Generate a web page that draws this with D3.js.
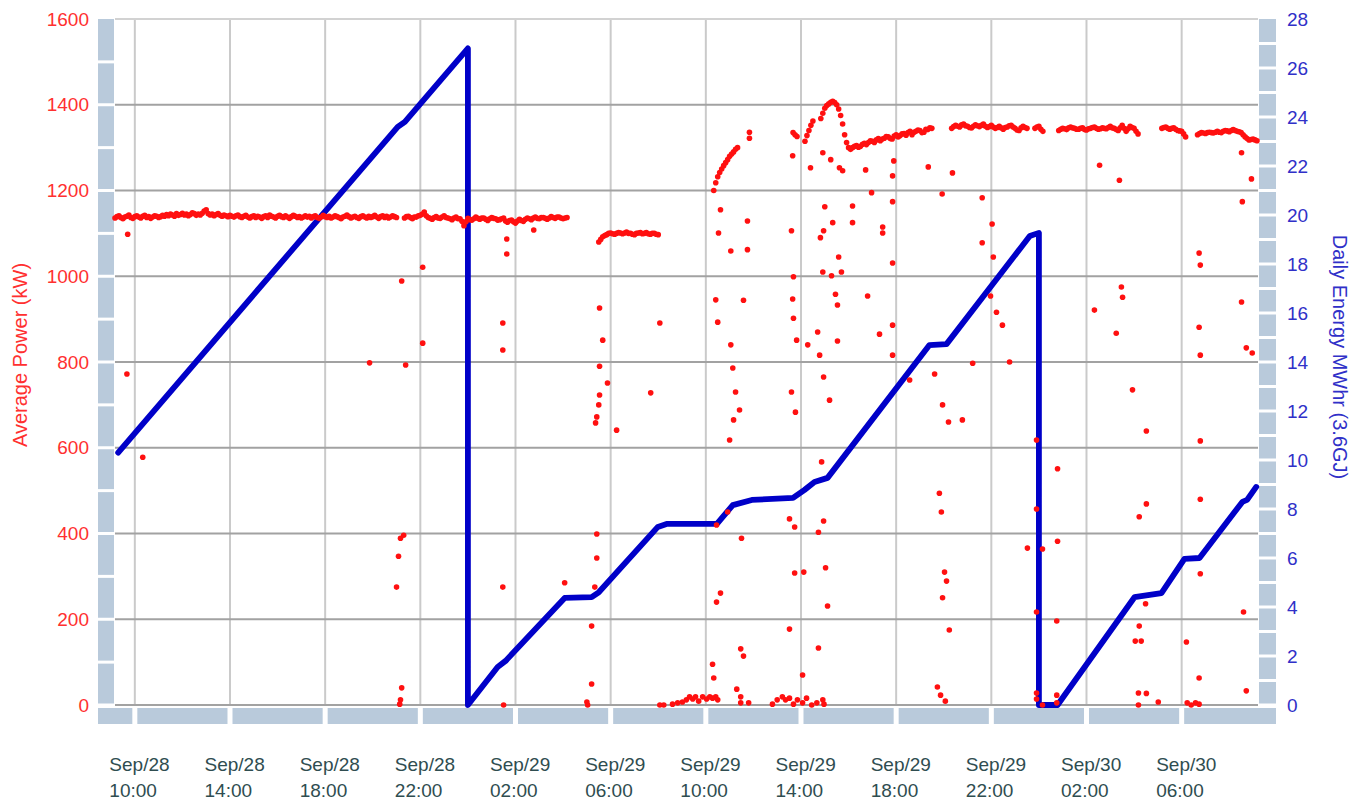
<!DOCTYPE html>
<html><head><meta charset="utf-8">
<script src="https://cdn.jsdelivr.net/npm/d3@7"></script>
<style>html,body{margin:0;padding:0;background:#fff;} svg{display:block;font-family:"Liberation Sans",Arial,sans-serif;}</style>
</head><body>
<svg id="chart" width="1352" height="803"></svg>
<script>
// ---------------- DATA ----------------
const timeDomain = ["28 09:10", "30 09:10"];
const powerTicks = [0, 200, 400, 600, 800, 1000, 1200, 1400, 1600];
const energyTicks = [0, 2, 4, 6, 8, 10, 12, 14, 16, 18, 20, 22, 24, 26, 28];
const timeTicks = ["28 10:00","28 14:00","28 18:00","28 22:00","29 02:00","29 06:00",
                   "29 10:00","29 14:00","29 18:00","29 22:00","30 02:00","30 06:00"];
const timeTickLabels = [["Sep/28","10:00"],["Sep/28","14:00"],["Sep/28","18:00"],["Sep/28","22:00"],
                        ["Sep/29","02:00"],["Sep/29","06:00"],["Sep/29","10:00"],["Sep/29","14:00"],
                        ["Sep/29","18:00"],["Sep/29","22:00"],["Sep/30","02:00"],["Sep/30","06:00"]];
const leftTitle = "Average Power (kW)";
const rightTitle = "Daily Energy MWhr (3.6GJ)";

// Daily energy (MWh), blue line
const energyTimes = ["28 09:18","28 21:03","28 21:21","29 00:00","29 00:00","29 01:15","29 01:35","29 04:04",
  "29 05:12","29 05:30","29 07:59","29 08:21","29 10:28","29 11:08","29 11:56","29 13:40","29 14:09",
  "29 14:34","29 15:07","29 19:24","29 20:07","29 23:37","30 00:00","30 00:00","30 00:47","30 04:01",
  "30 05:09","30 06:07","30 06:45","30 08:33","30 08:45","30 09:08"];
const energyValues = [10.3, 23.6, 23.8, 26.8, 0, 1.55, 1.8, 4.37, 4.4, 4.6, 7.27, 7.39, 7.39, 8.16, 8.37,
  8.45, 8.78, 9.1, 9.27, 14.69, 14.73, 19.14, 19.27, 0, 0, 4.4, 4.57, 5.96, 6.0, 8.29, 8.37, 8.9];

// Average power (kW), 5-minute readings in continuous runs
const runStepMinutes = 5;
const runStarts = ["28 09:10","28 21:20","29 05:30","29 10:20","29 11:50","29 13:40","29 14:10",
                   "29 14:50","29 20:20","29 23:50","30 00:50","30 05:10","30 06:40"];
const runValues = [
  [1136,1139,1141,1137,1134,1138,1140,1143,1137,1135,1139,1141,
   1138,1136,1140,1142,1137,1139,1135,1138,1141,1140,1137,1139,
   1142,1140,1144,1141,1145,1143,1140,1146,1142,1144,1147,1143,
   1145,1141,1144,1148,1146,1142,1145,1143,1147,1152,1155,1146,
   1143,1145,1141,1144,1146,1142,1140,1143,1141,1139,1142,1140,
   1138,1141,1143,1139,1137,1140,1142,1138,1136,1139,1141,1137,
   1140,1138,1135,1139,1141,1137,1143,1140,1138,1136,1140,1142,
   1139,1137,1141,1138,1135,1139,1142,1140,1137,1139,1136,1138,
   1141,1138,1140,1136,1139,1141,1137,1135,1138,1142,1139,1137,
   1140,1136,1138,1141,1139,1137,1134,1138,1140,1143,1139,1136,
   1138,1140,1137,1135,1139,1141,1138,1136,1140,1137,1139,1142,
   1138,1135,1139,1141,1137,1140,1136,1138,1141,1139,1137],
  [1136,1139,1140,1137,1134,1138,1138,1141,1142,1145,1150,1141,
   1137,1135,1133,1137,1139,1136,1135,1138,1141,1137,1136,1134,
   1132,1136,1138,1134,1134,1128,1118,1127,1135,1132,1131,1134,
   1138,1135,1133,1136,1136,1133,1130,1134,1137,1135,1134,1131,
   1132,1134,1136,1129,1126,1130,1131,1127,1124,1129,1133,1130,
   1128,1133,1136,1134,1132,1136,1138,1135,1134,1137,1137,1135,
   1133,1136,1139,1137,1135,1138,1138,1136,1134,1136,1137],
  [1080,1086,1092,1095,1097,1100,1101,1099,1098,1100,1102,1101,1099,1101,1103,1100,
   1100,1098,1097,1100,1101,1102,1099,1100,1102,1099,1098,1100,1100,1098,1097],
  [1200,1218,1232,1242,1250,1258,1265,1272,1280,1285,1290,1296,1300],
  [1336],
  [1335,1330,1326],
  [1315,1328,1340,1352,1362],
  [1368,1380,1392,1398,1402,1406,1408,1405,1400,1390,1375,1355,1330,1312,1300,1296,
   1300,1303,1305,1301,1303,1308,1310,1307,1312,1316,1315,1312,1318,1321,1316,1320,
   1322,1326,1325,1321,1320,1327,1330,1325,1328,1332,1333,1329,1335,1338,1330,1336,
   1338,1341,1340,1335,1336,1343,1342,1346,1345],
  [1345,1349,1352,1350,1348,1353,1355,1351,1350,1347,1346,1350,1353,1351,1349,1352,
   1355,1350,1347,1349,1352,1348,1345,1347,1350,1346,1343,1347,1348,1351,1352,1348,
   1345,1341,1340,1346,1350,1347,1345],
  [1345,1348,1350,1343,1338],
  [1340,1343,1345,1344,1342,1346,1348,1346,1345,1343,1343,1345,1346,1342,1341,1344,
   1345,1347,1348,1345,1343,1344,1346,1345,1344,1347,1350,1346,1345,1342,1340,1346,
   1352,1345,1338,1344,1350,1347,1345,1338,1332],
  [1345,1347,1348,1345,1343,1345,1346,1343,1340,1339,1338,1332,1325],
  [1330,1333,1335,1334,1333,1335,1336,1335,1334,1336,1338,1336,1335,1338,1340,1339,
   1337,1340,1342,1340,1338,1337,1335,1330,1325,1321,1318,1319,1320,1318,1316]
];

// Isolated power readings (kW)
const spotTimes = [
  "28 09:42","28 09:40","28 10:20","28 19:52","28 21:13","28 21:23","28 21:10","28 21:18","28 21:05","28 21:00",
  "28 21:13","28 21:10","28 21:08","28 22:06","28 22:06",
  "29 01:38","29 02:46","29 01:30","29 01:28","29 01:28","29 01:28","29 01:38","29 04:04","29 05:12","29 05:12",
  "29 05:00","29 05:02","29 05:25","29 05:25","29 05:20","29 05:32","29 05:40","29 05:32","29 05:32","29 05:30",
  "29 05:25","29 05:22","29 05:52","29 06:15","29 07:41","29 08:04",
  "29 08:04","29 08:14","29 08:36","29 08:49","29 09:01","29 09:11","29 09:19","29 09:27","29 09:34","29 09:42",
  "29 09:52","29 10:02","29 10:10","29 10:17","29 10:25","29 10:30",
  "29 10:17","29 10:20","29 10:27","29 10:37","29 10:27","29 10:55","29 10:37","29 10:32","29 11:03","29 11:45",
  "29 11:45","29 10:25","29 10:30","29 11:03","29 11:08","29 11:15","29 11:25","29 11:10","29 11:00","29 11:30",
  "29 11:28","29 11:35","29 11:18","29 11:28","29 11:28","29 11:48","29 11:35","29 11:50",
  "29 12:48","29 13:00","29 13:13","29 13:21","29 13:31","29 13:41","29 13:51","29 14:04","29 14:14","29 14:27",
  "29 14:55","29 14:58","29 14:40",
  "29 13:31","29 13:44","29 13:44","29 14:07","29 13:31","29 14:04","29 14:44","29 14:57","29 15:02","29 14:44","29 15:07",
  "29 13:41","29 14:55","29 15:17","29 15:42","29 15:35","29 14:49","29 14:57","29 15:20","29 15:00","29 16:10",
  "29 16:10","29 13:36","29 13:39","29 14:24","29 14:55","29 15:15","29 15:37","29 15:45","29 16:43","29 16:58",
  "29 17:26","29 17:26","29 17:51","29 17:51","29 17:54","29 17:51","29 19:21","29 19:56","29 20:22","29 21:37",
  "29 21:37","29 22:02","29 22:05",
  "29 13:39","29 13:41","29 13:49","29 13:36","29 13:46","29 14:17","29 14:42","29 14:47","29 14:57","29 15:27",
  "29 15:32","29 15:32","29 15:12","29 14:52",
  "29 16:48","29 17:18","29 17:51","29 17:51","29 18:34","29 19:37",
  "29 19:49","29 19:54","29 20:02","29 20:07","29 19:57","29 20:14","29 19:44","29 19:52","29 20:04","29 19:57",
  "29 20:12","29 20:47","29 21:13","29 21:58","29 22:13","29 22:28","29 22:46","29 23:31","29 23:54","29 23:54",
  "30 00:09","29 23:54","29 23:54","29 23:54","30 00:09",
  "30 00:47","30 00:47","30 00:45","30 00:45","30 00:45","30 04:31","30 06:47","30 04:31","30 04:13","30 06:47",
  "30 06:47","30 04:29","30 04:13","30 04:03","30 04:18","30 08:36","30 06:12","30 06:44","30 08:43","30 04:11",
  "30 04:31","30 05:01","30 04:11","30 06:14","30 06:24","30 06:35","30 06:44","30 08:31","30 08:43","30 08:58",
  "30 08:31","30 08:56","30 08:33",
  "30 02:20","30 03:28","30 03:31","30 03:15","30 03:56","30 02:33","30 03:23","30 06:44","30 06:47","30 06:44","30 06:47"
];
const spotValues = [
  1098,772,578,798,989,793,389,396,347,275,
  40,12,2,1021,844,
  1087,1108,0,275,891,828,1052,285,184,49,
  7,0,399,343,275,926,851,790,723,700,
  672,658,751,641,728,891,
  0,0,2,5,7,12,19,14,19,9,
  19,14,19,16,19,12,
  95,63,240,261,420,450,1155,1101,1059,1129,
  1062,945,893,840,786,730,688,665,618,389,
  131,114,37,19,5,5,944,1322,
  2,12,19,12,16,2,12,5,16,0,
  12,2,5,
  434,415,308,310,177,70,403,429,320,133,231,
  999,1010,1001,1010,1045,1090,1106,1125,1162,1164,
  1125,1106,1281,1253,1288,1272,1253,1246,1248,1195,
  1115,1101,1031,1174,1269,1234,1255,1192,1241,1183,
  1078,1122,1045,
  947,902,851,730,683,840,870,816,765,958,
  933,849,711,567,
  954,865,886,816,758,772,
  494,450,310,289,250,175,42,23,9,700,
  660,665,797,954,916,886,800,366,618,457,
  364,217,28,14,0,
  551,382,196,23,5,639,616,469,439,480,
  306,236,184,149,149,217,147,63,33,28,
  27,7,0,5,0,5,2,940,833,821,
  1288,1227,1174,
  921,975,951,867,735,1259,1224,1054,1026,881,816
];

// ---------------- DRAWING ----------------
const parseT = d3.timeParse("%Y-%m-%d %H:%M");
const T = s => parseT("2023-09-" + s);

const plot = {left: 115, right: 1257, top: 19, bottom: 705};
const x = d3.scaleTime().domain(timeDomain.map(T)).range([plot.left, plot.right]);
const yL = d3.scaleLinear().domain([0, 1600]).range([plot.bottom, plot.top]);
const yR = d3.scaleLinear().domain([0, 28]).range([plot.bottom, plot.top]);

const svg = d3.select("#chart");
const bandColor = "#b9cadb";

// gridlines
const grid = svg.append("g");
grid.selectAll("line.v").data(timeTicks.map(T)).join("line")
  .attr("x1", d => x(d)).attr("x2", d => x(d))
  .attr("y1", plot.top).attr("y2", plot.bottom)
  .attr("stroke", "#cacaca").attr("stroke-width", 2);
grid.selectAll("line.h").data(powerTicks).join("line")
  .attr("x1", plot.left).attr("x2", plot.right + 1)
  .attr("y1", d => yL(d)).attr("y2", d => yL(d))
  .attr("stroke", d => d === 1600 ? "#d2d2d2" : "#a2a2a2").attr("stroke-width", 2);

// left band (segments every 100 kW)
const leftSteps = d3.range(0, 1600, 100);
svg.append("g").selectAll("rect").data(leftSteps).join("rect")
  .attr("x", 98).attr("width", 16)
  .attr("y", d => yL(d + 100) + (d + 100 === 1600 ? 0 : 1.5))
  .attr("height", d => yL(d) - yL(d + 100) - (d + 100 === 1600 ? 1.5 : 3))
  .attr("fill", bandColor);
// right band (segments every 1 MWh)
const rightSteps = d3.range(0, 28, 1);
svg.append("g").selectAll("rect").data(rightSteps).join("rect")
  .attr("x", 1259).attr("width", 17)
  .attr("y", d => yR(d + 1) + (d + 1 === 28 ? 0 : 1.5))
  .attr("height", d => yR(d) - yR(d + 1) - (d + 1 === 28 ? 1.5 : 3))
  .attr("fill", bandColor);
// bottom band (segments between time ticks)
const bx = [98, ...timeTicks.map(t => x(T(t))), 1276];
svg.append("g").selectAll("rect").data(d3.range(bx.length - 1)).join("rect")
  .attr("x", i => bx[i] + (i === 0 ? 0 : 2.5))
  .attr("width", i => bx[i + 1] - bx[i] - (i === 0 ? 2.5 : (i === bx.length - 2 ? 2.5 : 5)))
  .attr("y", 708).attr("height", 16)
  .attr("fill", bandColor);

// energy line
const energy = energyTimes.map((t, i) => ({t: T(t), v: energyValues[i]}));
svg.append("path").datum(energy)
  .attr("d", d3.line().x(d => x(d.t)).y(d => yR(d.v)))
  .attr("fill", "none").attr("stroke", "#0000c8").attr("stroke-width", 5.8)
  .attr("stroke-linejoin", "round").attr("stroke-linecap", "round");

// power points
const power = [];
runStarts.forEach((s, i) => {
  const t0 = T(s);
  runValues[i].forEach((v, j) => power.push({t: d3.timeMinute.offset(t0, j * runStepMinutes), v}));
});
spotTimes.forEach((s, i) => power.push({t: T(s), v: spotValues[i]}));
svg.append("g").selectAll("circle").data(power).join("circle")
  .attr("cx", d => x(d.t)).attr("cy", d => yL(d.v)).attr("r", 2.8)
  .attr("fill", "#ff1010");

// axes
const fontSize = 19;
const gL = svg.append("g").attr("transform", "translate(98,0)")
  .call(d3.axisLeft(yL).tickValues(powerTicks).tickSize(0).tickPadding(9).tickFormat(d3.format("d")));
gL.select(".domain").remove();
gL.selectAll("text").attr("fill", "#ff3030").attr("font-size", fontSize).attr("font-family", "Liberation Sans, Arial, sans-serif");

const gR = svg.append("g").attr("transform", "translate(1276,0)")
  .call(d3.axisRight(yR).tickValues(energyTicks).tickSize(0).tickPadding(11).tickFormat(d3.format("d")));
gR.select(".domain").remove();
gR.selectAll("text").attr("fill", "#3030c8").attr("font-size", fontSize).attr("font-family", "Liberation Sans, Arial, sans-serif");

const gB = svg.append("g").attr("transform", "translate(0,724)")
  .call(d3.axisBottom(x).tickValues(timeTicks.map(T)).tickSize(0).tickFormat(() => ""));
gB.select(".domain").remove();
gB.selectAll(".tick text").each(function(d, i) {
  const t = d3.select(this).attr("text-anchor", "start").attr("y", 0).attr("dy", null)
    .attr("fill", "#2f4d50").attr("font-size", fontSize).attr("font-family", "Liberation Sans, Arial, sans-serif");
  t.text(null);
  t.append("tspan").attr("x", -26).attr("y", 47).text(timeTickLabels[i][0]);
  t.append("tspan").attr("x", -26).attr("y", 73).text(timeTickLabels[i][1]);
});

// axis titles
svg.append("text").attr("transform", "translate(27,355) rotate(-90)")
  .attr("text-anchor", "middle").attr("font-size", 20).attr("fill", "#ff3030").text(leftTitle);
svg.append("text").attr("transform", "translate(1333,357) rotate(90)")
  .attr("text-anchor", "middle").attr("font-size", 20).attr("fill", "#3030c8").text(rightTitle);
</script>
</body></html>
